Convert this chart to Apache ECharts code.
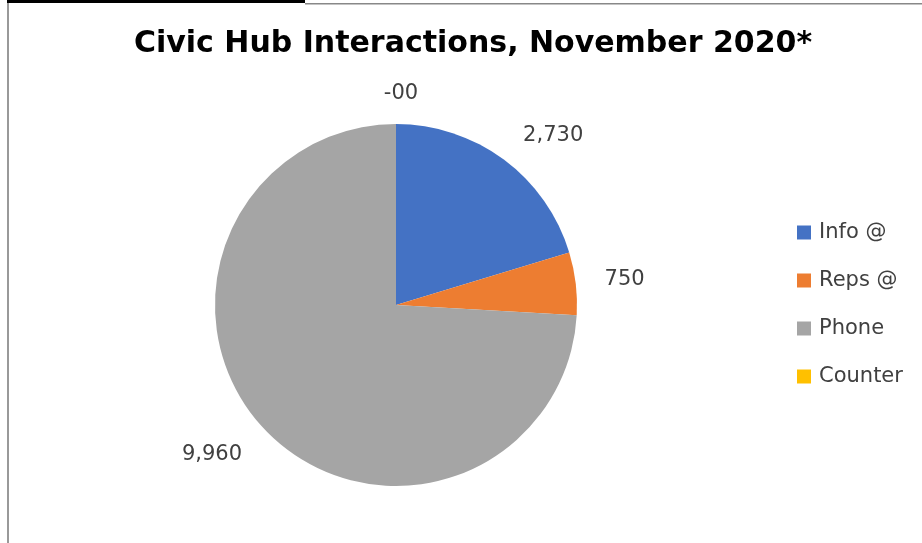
<!DOCTYPE html>
<html><head><meta charset="utf-8">
<script src="https://cdn.jsdelivr.net/npm/echarts@6/dist/echarts.min.js"></script>
<style>html,body{margin:0;padding:0;background:#fff}#c{width:922px;height:543px}</style>
</head><body><div id="c"></div>
<script>
const categories = ['Info @', 'Reps @', 'Phone', 'Counter'];
const values = [2730, 750, 9960, 0];
const colors = ['#4472C4', '#ED7D31', '#A5A5A5', '#FFC000'];
const titleText = 'Civic Hub Interactions, November 2020*';

const total = values.reduce((a, b) => a + b, 0);
function midAngle(i) {
  let before = 0;
  for (let k = 0; k < i; k++) before += values[k];
  return (before + values[i] / 2) / total * 2 * Math.PI;
}

const chart = echarts.init(document.getElementById('c'));
chart.setOption({
  backgroundColor: '#fff',
  animation: false,
  title: {
    text: titleText, left: 468, top: 24, textAlign: 'center',
    textStyle: { fontFamily: 'DejaVu Sans', fontWeight: 'bold', fontSize: 30, color: '#000' }
  },
  legend: {
    orient: 'vertical', left: 797, top: 222, padding: 0, itemWidth: 14, itemHeight: 14, itemGap: 27,
    icon: 'rect',
    textStyle: { fontFamily: 'DejaVu Sans', fontSize: 21, color: '#404040', padding: [0,0,0,3] },
    data: categories
  },
  graphic: [
    { type: 'rect', shape: { x: 7, y: 0, width: 298, height: 3 }, style: { fill: '#000' } },
    { type: 'rect', shape: { x: 305, y: 3, width: 617, height: 1.5 }, style: { fill: '#888' } },
    { type: 'rect', shape: { x: 7, y: 3, width: 2, height: 540 }, style: { fill: '#999' } }
  ],
  series: [{
    type: 'pie', center: [396, 305], radius: 181, startAngle: 90, clockwise: true,
    minAngle: 0, avoidLabelOverlap: false, stillShowZeroSum: true,
    data: categories.map((n, i) => ({ name: n, value: values[i], itemStyle: { color: colors[i] } })),
    label: {
      show: true, position: 'outside',
      fontFamily: 'DejaVu Sans', fontSize: 21, color: '#404040',
      formatter: p => p.value === 0 ? '-00' : p.value.toLocaleString('en-US')
    },
    labelLine: { show: false, length: 24, length2: 0 },
    labelLayout: p => {
      const a = midAngle(p.dataIndex);
      const c = Math.cos(a);
      const out = { dy: -c * p.labelRect.height * (c < 0 ? 0.6 : 0.3) };
      if (values[p.dataIndex] === 0) out.align = 'center';
      return out;
    },
    itemStyle: { borderWidth: 0 }
  }]
});
</script></body></html>
